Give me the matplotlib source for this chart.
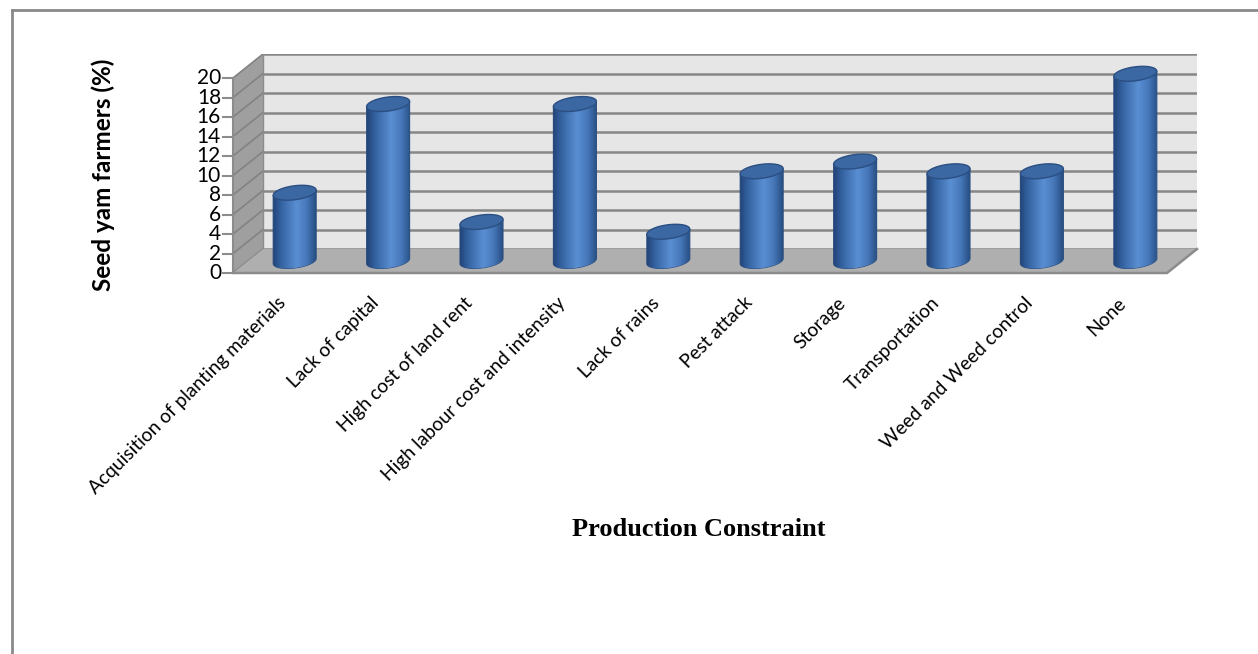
import numpy as np
import matplotlib
matplotlib.use('Agg')
import matplotlib.pyplot as plt
from matplotlib.patches import Polygon, PathPatch
from matplotlib.path import Path
from matplotlib.lines import Line2D
from matplotlib.colors import LinearSegmentedColormap
from matplotlib.transforms import offset_copy

# Data
categories = ['Acquisition of planting materials', 'Lack of capital', 'High cost of land rent',
              'High labour cost and intensity', 'Lack of rains', 'Pest attack', 'Storage',
              'Transportation', 'Weed and Weed control', 'None']
values = [7.0, 16.1, 4.0, 16.1, 3.0, 9.2, 10.2, 9.2, 9.2, 19.2]
y_ticks = list(range(0, 21, 2))

# Layout (pixels, figure is 1258 x 654 at dpi 100)
W, H = 1258, 654
PX_CAT = 93.4     # px per category
PX_VAL = 9.75     # px per value unit
DEPTH_PX = (30, 24)
DX = DEPTH_PX[0] / PX_CAT
DY = DEPTH_PX[1] / PX_VAL
ORIGIN = (233, 273)  # front-left floor corner (px from top-left)
YMAX = 20
N = len(categories)

fig = plt.figure(figsize=(W / 100, H / 100), dpi=100)
ax = fig.add_axes([ORIGIN[0] / W, (H - ORIGIN[1]) / H,
                   (N + DX) * PX_CAT / W, (YMAX + DY) * PX_VAL / H])
ax.set_xlim(-0.5, N - 0.5 + DX)
ax.set_ylim(0, YMAX + DY)
ax.axis('off')

x0, x1 = -0.5, N - 0.5
grid_c = '#878787'

# back wall, side wall, floor
ax.add_patch(Polygon([(x0 + DX, DY), (x1 + DX, DY), (x1 + DX, YMAX + DY), (x0 + DX, YMAX + DY)],
                     closed=True, facecolor='#e6e6e6', edgecolor='none', zorder=1))
ax.add_patch(Polygon([(x0, 0), (x0 + DX, DY), (x0 + DX, YMAX + DY), (x0, YMAX)],
                     closed=True, facecolor='#9f9f9f', edgecolor='none', zorder=1))
for v in y_ticks:
    ax.plot([x0 + DX, x1 + DX], [v + DY, v + DY], color=grid_c, lw=1.8, zorder=2, solid_capstyle='butt')
    ax.plot([x0, x0 + DX], [v, v + DY], color='#828282', lw=1.2, zorder=2)
ax.add_patch(Polygon([(x0, 0), (x1, 0), (x1 + DX, DY), (x0 + DX, DY)],
                     closed=True, facecolor='#afafaf', edgecolor='none', zorder=3))
ax.plot([x0, x1, x1 + DX], [0, 0, DY], color='#8c8c8c', lw=1.8, zorder=3, clip_on=False)
ax.plot([x0 + DX, x0 + DX], [DY, YMAX + DY], color='#8c8c8c', lw=1.0, zorder=2)

# front value axis
tick_len = 10 / PX_CAT
ax.plot([x0, x0], [0, YMAX], color='#8c8c8c', lw=1.5, zorder=4, clip_on=False)
lab_tr = offset_copy(ax.transData, fig=fig, x=-12, y=0, units='dots')
for v in y_ticks:
    ax.plot([x0 - tick_len, x0], [v, v], color='#8c8c8c', lw=1.5, zorder=4, clip_on=False)
    ax.text(x0, v, str(v), transform=lab_tr, ha='right', va='center',
            fontsize=15, family='Lato', color='black', clip_on=False)

# cylinders
cmap = LinearSegmentedColormap.from_list('cyl', [
    (0.0, '#23457a'), (0.18, '#3462a0'), (0.55, '#5a8fd3'),
    (0.8, '#4576b8'), (1.0, '#284f84')])
grad = np.linspace(0, 1, 64).reshape(1, -1)
a_px, b_px, tilt = 21.5, 7.0, 0.12
t = np.linspace(0, 2 * np.pi, 100)
ex = a_px * np.cos(t) / PX_CAT
ey = (b_px * np.sin(t) + tilt * a_px * np.cos(t)) / PX_VAL
a = a_px / PX_CAT
for i, v in enumerate(values):
    cx = i + DX / 2
    yb = DY / 2
    yt = v + DY / 2
    # body outline: left side down, lower half of bottom ellipse, right side up
    lower = (t >= np.pi)
    bx = cx + ex[lower]
    by = yb + ey[lower]
    top_r = yt + tilt * a_px / PX_VAL
    top_l = yt - tilt * a_px / PX_VAL
    pts = [(cx - a, top_l)] + list(zip(bx, by)) + [(cx + a, top_r), (cx - a, top_l)]
    path = Path(pts, closed=True)
    body = PathPatch(path, facecolor='none', edgecolor='#2c4f80', lw=0.8, zorder=5)
    ax.add_patch(body)
    im = ax.imshow(grad, cmap=cmap, aspect='auto', extent=[cx - a, cx + a, yb - 1.5, top_r + 0.5],
                   zorder=5, interpolation='bicubic')
    im.set_clip_path(body)
    ax.add_patch(Polygon(np.column_stack([cx + ex, yt + ey]), closed=True,
                         facecolor='#3b67a2', edgecolor='#2b4f82', lw=1.0, zorder=6))

ax.set_xlim(-0.5, N - 0.5 + DX)
ax.set_ylim(0, YMAX + DY)

# category labels
cat_tr = offset_copy(ax.transData, fig=fig, x=-3, y=-21, units='dots')
for i, c in enumerate(categories):
    ax.text(i, 0, c, transform=cat_tr, rotation=45, rotation_mode='anchor',
            ha='right', va='top', fontsize=13.8, family='Lato', clip_on=False)

# axis titles
fig.text(103 / W, 1 - 175 / H, 'Seed yam farmers (%)', rotation=90, ha='center', va='center',
         fontsize=17.5, family='Lato', fontweight='bold')
fig.text(699 / W, 1 - 529 / H, 'Production Constraint', ha='center', va='center',
         fontsize=19, family='Liberation Serif', fontweight='bold')

# outer frame (left and top)
fig.add_artist(Line2D([11.5 / W, 11.5 / W], [0, 1 - 9.5 / H], color='#8a8a8a', lw=2))
fig.add_artist(Line2D([11.5 / W, 1], [1 - 9.5 / H, 1 - 9.5 / H], color='#8a8a8a', lw=2))

fig.savefig('out.png', dpi=100)
